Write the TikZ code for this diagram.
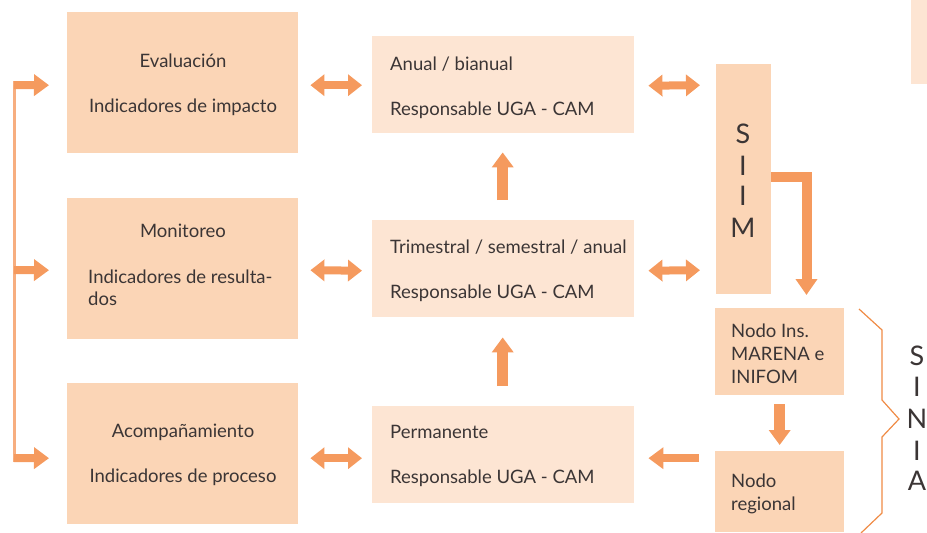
\documentclass[tikz,border=0pt]{standalone}
\usepackage{fontspec}
\setmainfont{Lato}
\usetikzlibrary{arrows.meta}
\definecolor{boxA}{HTML}{FBD5B6}
\definecolor{boxB}{HTML}{FDE5D3}
\definecolor{arrC}{HTML}{F59A5E}
\definecolor{linC}{HTML}{F7AE80}
\definecolor{brcC}{HTML}{EF8B45}
\definecolor{txtC}{HTML}{3B3535}
\begin{document}
\begin{tikzpicture}[x=1pt,y=-1pt,
  boxa/.style={fill=boxA, inner sep=0pt, anchor=north west},
  boxb/.style={fill=boxB, inner sep=0pt, anchor=north west},
  lbl/.style={font=\fontsize{18.5}{22}\selectfont, text=txtC, inner sep=0pt, anchor=base},
  lbll/.style={lbl, anchor=base west},
  big/.style={font=\fontsize{27}{30}\selectfont, text=txtC, inner sep=0pt, anchor=base},
  harr/.style={draw=arrC, line width=8pt, -{Triangle[width=21pt,length=15pt]}},
  dbl/.style={draw=arrC, line width=8pt, {Triangle[width=21pt,length=14pt]}-{Triangle[width=21pt,length=14pt]}},
  varr/.style={draw=arrC, line width=11pt, -{Triangle[width=21pt,length=15pt]}},
  bent/.style={draw=arrC, line width=10pt, miter limit=10, -{Triangle[width=21pt,length=16pt]}},
  vline/.style={draw=linC, line width=3pt},
  brace/.style={draw=brcC, line width=1.2pt}
]
\useasboundingbox (0,0) rectangle (927,533);

% left column boxes
\node[boxa, minimum width=231pt, minimum height=141pt] (ev) at (67,12) {};
\node[boxa, minimum width=231pt, minimum height=141pt] (mo) at (67,198) {};
\node[boxa, minimum width=231pt, minimum height=141pt] (ac) at (67,383) {};
% middle column boxes
\node[boxb, minimum width=262pt, minimum height=97pt] (an) at (372,36) {};
\node[boxb, minimum width=262pt, minimum height=97pt] (tr) at (372,220) {};
\node[boxb, minimum width=262pt, minimum height=97pt] (pe) at (372,406) {};
% right column
\node[boxa, minimum width=55pt, minimum height=230pt] (siim) at (716,64) {};
\node[boxa, minimum width=129pt, minimum height=87pt] (ins) at (715,308) {};
\node[boxa, minimum width=129pt, minimum height=81pt] (reg) at (715,451) {};
\node[boxb, minimum width=16pt, minimum height=84pt] (edge) at (911,0) {};

% texts left
\node[lbl] at (183,67) {Evaluación};
\node[lbl] at (183,112) {Indicadores de impacto};
\node[lbl] at (183,237) {Monitoreo};
\node[lbll] at (88,283) {Indicadores de resulta-};
\node[lbll] at (88,305) {dos};
\node[lbl] at (183,437) {Acompañamiento};
\node[lbl] at (183,482) {Indicadores de proceso};
% texts middle
\node[lbll] at (390,70) {Anual / bianual};
\node[lbll] at (390,115) {Responsable UGA - CAM};
\node[lbll] at (390,253) {Trimestral / semestral / anual};
\node[lbll] at (390,298) {Responsable UGA - CAM};
\node[lbll] at (390,438) {Permanente};
\node[lbll] at (390,483) {Responsable UGA - CAM};
% texts right
\node[lbll] at (731,337) {Nodo Ins.};
\node[lbll] at (731,360) {MARENA e};
\node[lbll] at (731,383) {INIFOM};
\node[lbll] at (731,487) {Nodo};
\node[lbll] at (731,510) {regional};
\node[big] at (743,143) {S};
\node[big] at (743,175) {I};
\node[big] at (743,205) {I};
\node[big] at (743,237) {M};
\node[big] at (917,365) {S};
\node[big] at (917,396) {I};
\node[big] at (917,428) {N};
\node[big] at (917,460) {I};
\node[big] at (917,490) {A};

% left feedback line
\coordinate (l0) at (14,81);
\coordinate (l1) at (14,85);
\coordinate (l2) at (14,270);
\coordinate (l3) at (14,458);
\coordinate (l4) at (14,462);
\draw[vline] (l0) -- (l4);
\draw[harr] (l1) -- ([xshift=-18pt,yshift=-2.5pt]ev.west);
\draw[harr] (l2) -- ([xshift=-18pt,yshift=-1.5pt]mo.west);
\draw[harr] (l3) -- ([xshift=-18pt,yshift=-4.5pt]ac.west);

% left <-> middle
\draw[dbl] ([xshift=12pt,yshift=-2.5pt]ev.east) -- ([xshift=-10pt,yshift=-0.5pt]an.west);
\draw[dbl] ([xshift=12pt,yshift=-1.5pt]mo.east) -- ([xshift=-10pt,yshift=-2pt]tr.west);
\draw[dbl] ([xshift=12pt,yshift=-4.5pt]ac.east) -- ([xshift=-10pt,yshift=-3.5pt]pe.west);

% middle up arrows
\draw[varr] ([xshift=-0.5pt,yshift=20pt]pe.north) -- ([xshift=-0.5pt,yshift=-20pt]tr.south);
\draw[varr] ([xshift=-0.5pt,yshift=20pt]tr.north) -- ([xshift=-0.5pt,yshift=-19pt]an.south);

% middle <-> SIIM
\draw[dbl] ([xshift=14pt,yshift=-1pt]an.east) -- ([xshift=-16pt,yshift=94pt]siim.west);
\draw[dbl] ([xshift=14pt,yshift=-2pt]tr.east) -- ([xshift=-16pt,yshift=-91pt]siim.west);
\draw[harr] ([xshift=-16pt,yshift=33.5pt]reg.west) -- ([xshift=14pt,yshift=-3.5pt]pe.east);

% SIIM -> nodes
\draw[bent] ([yshift=2pt]siim.east) -| ([xshift=91.5pt,yshift=13pt]ins.north west);
\draw[varr] ([yshift=-9pt]ins.south) -- ([yshift=6pt]reg.north);

% brace
\coordinate (b0) at (859,309);
\coordinate (b1) at (882,330);
\coordinate (b2) at (882,400);
\coordinate (b3) at (899,419);
\coordinate (b4) at (882,437);
\coordinate (b5) at (882,513);
\coordinate (b6) at (861,533);
\draw[brace] (b0) -- (b1) -- (b2) -- (b3) -- (b4) -- (b5) -- (b6);
\end{tikzpicture}
\end{document}
